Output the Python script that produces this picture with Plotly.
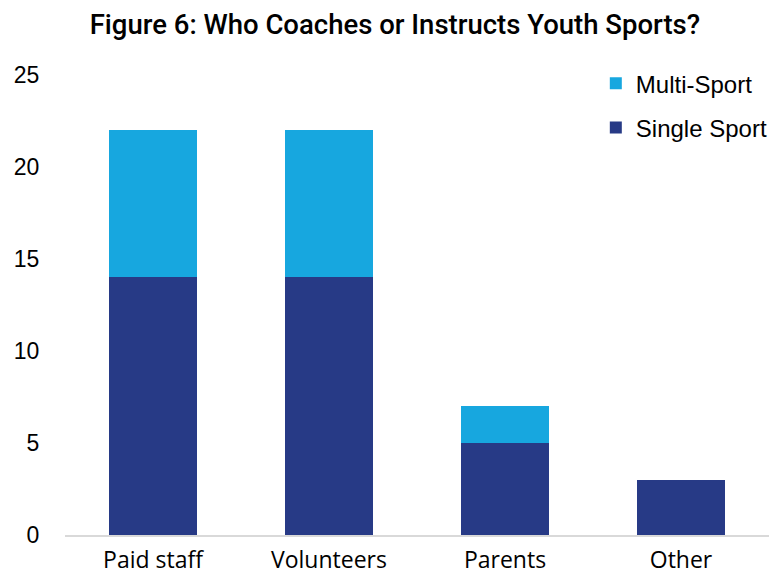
import plotly.graph_objects as go

# Who coaches or instructs youth sports, by program type
categories = ["Paid staff", "Volunteers", "Parents", "Other"]
single_sport = [14, 14, 5, 3]
multi_sport = [8, 8, 2, 0]
y_ticks = [0, 5, 10, 15, 20, 25]

SINGLE_COLOR = "#273A86"
MULTI_COLOR = "#17A7DF"

fig = go.Figure()
fig.add_trace(go.Bar(
    x=categories, y=single_sport, name="Single Sport",
    marker=dict(color=SINGLE_COLOR, line=dict(width=0)),
    legendgroup="single", legendrank=2,
))
fig.add_trace(go.Bar(
    x=categories, y=multi_sport, name="Multi-Sport",
    marker=dict(color=MULTI_COLOR, line=dict(width=0)),
    legendgroup="multi", legendrank=1,
))

fig.update_layout(
    width=782, height=577,
    margin=dict(l=65, r=13, t=75, b=42, autoexpand=False),
    barmode="stack", bargap=0.5,
    plot_bgcolor="white", paper_bgcolor="white",
    title=dict(
        text="Figure 6: Who Coaches or Instructs Youth Sports?",
        x=0.505, xanchor="center", xref="container",
        y=0.958, yanchor="middle",
        font=dict(family="Roboto", size=27.5, color="black", weight=500),
    ),
    legend=dict(
        x=0.754, xanchor="left", y=1.03, yanchor="top",
        xref="paper", yref="paper",
        traceorder="grouped", tracegroupgap=10,
        font=dict(family="Liberation Sans", size=24, color="black"),
        bgcolor="rgba(0,0,0,0)",
    ),
    font=dict(family="Liberation Sans", color="black"),
)
fig.update_xaxes(
    showgrid=False, showline=True, linecolor="#D9D9D9", linewidth=2,
    ticks="outside", ticklen=3, tickcolor="rgba(0,0,0,0)",
    tickfont=dict(family="Open Sans", size=23, color="black"),
    range=[-0.5, 3.5], automargin=False,
)
fig.update_yaxes(
    range=[0, 25], tickvals=y_ticks, showgrid=False, zeroline=False,
    ticks="outside", ticklen=20, tickcolor="rgba(0,0,0,0)",
    tickfont=dict(family="Liberation Sans", size=23, color="black"),
    automargin=False,
)

fig.write_html("out.html")
